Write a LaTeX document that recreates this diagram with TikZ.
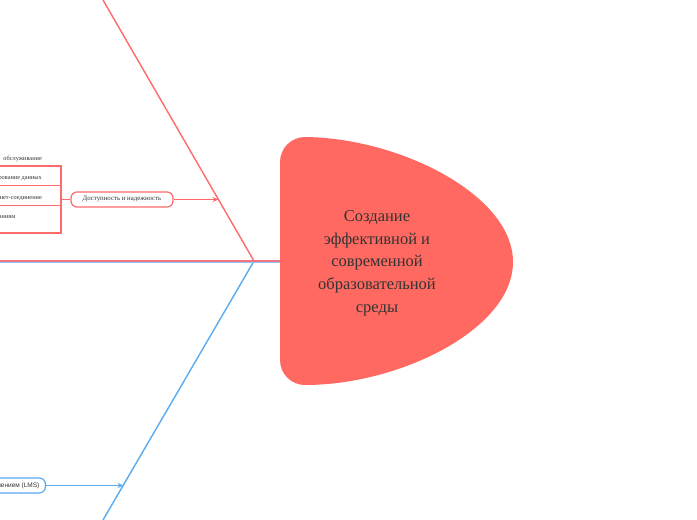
\documentclass[tikz,border=0pt]{standalone}
\usepackage{fontspec}
\setmainfont{Liberation Serif}
\setsansfont{Liberation Sans}
\usetikzlibrary{arrows.meta}
\definecolor{mainred}{HTML}{FF6961}
\definecolor{linered}{HTML}{FF6B6B}
\definecolor{lineblue}{HTML}{5AACF2}
\definecolor{spine}{HTML}{F07484}
\definecolor{txt}{HTML}{333333}
\tikzset{
  redline/.style={draw=linered, line width=1.4pt},
  blueline/.style={draw=lineblue, line width=1.4pt},
  topicbox/.style={rounded corners=6pt, line width=1.2pt, fill=white, minimum height=15pt, inner xsep=6pt, inner ysep=0pt, font=\fontsize{6.8}{7}\selectfont, text=txt},
  subtext/.style={font=\fontsize{6.3}{7}\selectfont, text=txt, inner sep=0pt},
  arr/.style={-{Stealth[length=6pt,width=5pt]}, line width=1.3pt},
}
\begin{document}
\begin{tikzpicture}[x=1pt,y=-1pt]
\useasboundingbox (0,0) rectangle (697,520);
\fill[white] (0,0) rectangle (697,520);
% skeleton
\coordinate (top) at (103,0);
\coordinate (hub) at (254,261);
\coordinate (bot) at (103,520);
\coordinate (spineL) at (-5,261);
\coordinate (spineR) at (282,261);
\draw[blueline] (hub) -- (bot);
\draw[redline] (top) -- (hub);
\draw[draw=lineblue!70!white, line width=0.8pt] ([yshift=-1pt]spineL) -- ([yshift=-1pt]spineR);
\draw[draw=spine, line width=1.6pt] ([yshift=0.3pt]spineL) -- ([yshift=0.3pt]spineR);
% main topic
\fill[mainred] (280,162) arc[start angle=180, end angle=270, radius=25]
  .. controls (400,138) and (513,195) .. (513,262)
  .. controls (513,329) and (400,385) .. (305,385)
  arc[start angle=90, end angle=180, radius=25] -- cycle;
\node[align=center, text=txt, font=\fontsize{16.5}{22.7}\selectfont] (main) at (377,263)
  {Создание\\эффективной и\\современной\\образовательной\\среды};
% red branch
\node[topicbox, draw=linered, minimum width=102pt] (dost) at (122,199.5) {Доступность и надежность};
\coordinate (redhit) at (218.5,199.5);
\draw[arr, draw=linered] (dost.east) -- (redhit);
% bracket with sub-items
\coordinate (bt) at (61,166);
\coordinate (b2) at (61,185.5);
\coordinate (b3) at (61,205.5);
\coordinate (bb) at (61,233);
\draw[draw=linered, line width=1.2pt] (-5,166) -- (bt) -- (bb) -- (-5,233);
\draw[draw=linered, line width=1.2pt] (-5,185.5) -- (b2);
\draw[draw=linered, line width=1.2pt] (-5,205.5) -- (b3);
\coordinate (bmid) at (61,199.5);
\draw[draw=linered, line width=1.2pt] (bmid) -- (dost.west);
\node[subtext, anchor=east] (s1) at (42,158.5) {Техническое\hspace{4pt} обслуживание};
\node[subtext, anchor=east] (s2) at (42,178) {Резервное копирование данных};
\node[subtext, anchor=east] (s3) at (42,198) {Стабильное интернет-соединение};
\node[subtext, anchor=east] (s4) at (15.5,217) {Доступ к знаниям};
% blue branch
\node[topicbox, draw=lineblue, anchor=east, font=\sffamily\fontsize{6.5}{7}\selectfont] (lms) at (46,485.5) {Система управления обучением (LMS)};
\coordinate (bluehit) at (123.5,485.5);
\draw[arr, draw=lineblue] (lms.east) -- (bluehit);
\end{tikzpicture}
\end{document}
